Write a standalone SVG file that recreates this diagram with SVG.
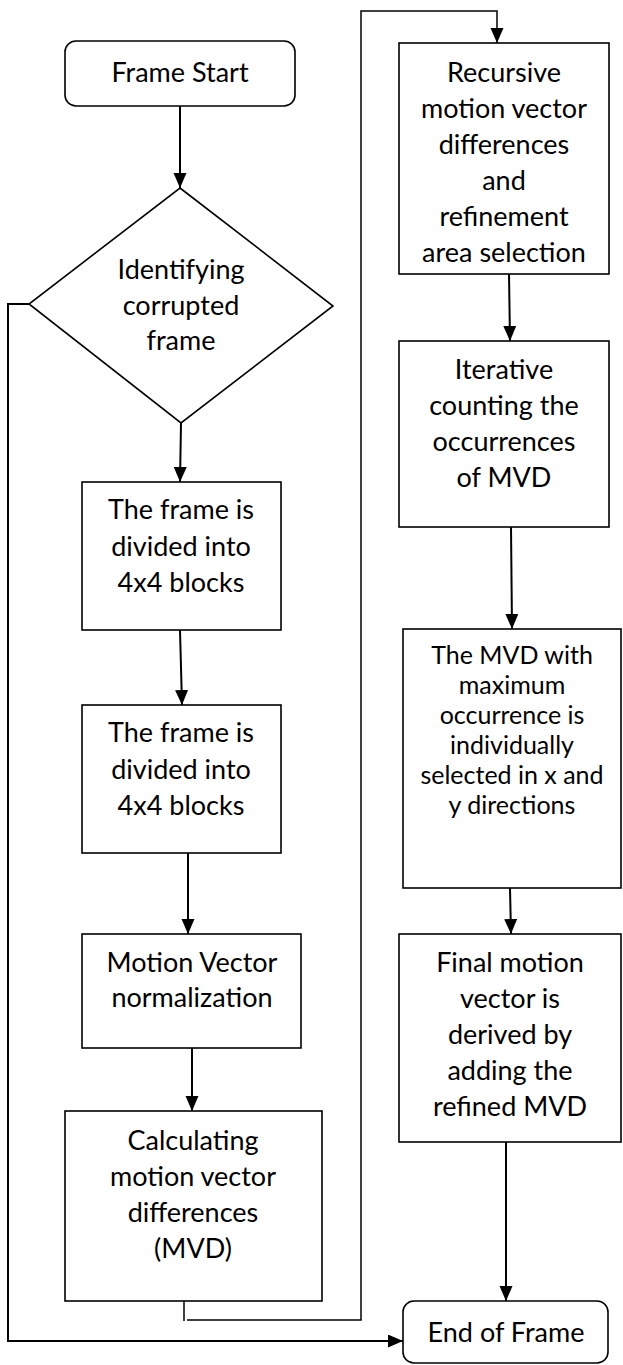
<svg xmlns="http://www.w3.org/2000/svg" width="623" height="1365" viewBox="0 0 623 1365">
  <style>
    .box { fill: #fff; stroke: #000; stroke-width: 1.6; }
    .wire { fill: none; stroke: #000; stroke-width: 2; }
    .thin { fill: none; stroke: #000; stroke-width: 1.5; }
    .lbl { font-family: Lato, "Liberation Sans", sans-serif; font-size: 27px; fill: #000; text-anchor: middle; }
    .sm { font-size: 25px; }
  </style>
  <defs>
    <marker id="arrow" markerUnits="userSpaceOnUse" markerWidth="16" markerHeight="14" refX="15" refY="6.5" orient="auto">
      <path d="M0,0 L15,6.5 L0,13 z" fill="#000"/>
    </marker>
  </defs>

  <rect width="623" height="1365" fill="#fff"/>

  <!-- connectors -->
  <g id="connectors">
    <line class="wire" x1="180" y1="106" x2="180" y2="188" marker-end="url(#arrow)"/>
    <line class="wire" x1="181" y1="423" x2="180" y2="482" marker-end="url(#arrow)"/>
    <line class="wire" x1="180" y1="630" x2="182" y2="705" marker-end="url(#arrow)"/>
    <line class="wire" x1="188" y1="853" x2="188" y2="934" marker-end="url(#arrow)"/>
    <line class="wire" x1="192" y1="1048" x2="192" y2="1111" marker-end="url(#arrow)"/>
    <!-- loop from the MVD step back up to the right-hand column -->
    <line class="thin" x1="184" y1="1297" x2="184" y2="1321"/>
    <polyline class="thin" points="187,1320 361,1320 361,11 497,11 497,43" marker-end="url(#arrow)"/>
    <line class="wire" x1="509" y1="274" x2="510" y2="341" marker-end="url(#arrow)"/>
    <line class="wire" x1="511" y1="527" x2="512" y2="629" marker-end="url(#arrow)"/>
    <line class="wire" x1="510" y1="888" x2="511" y2="934" marker-end="url(#arrow)"/>
    <line class="wire" x1="506" y1="1142" x2="506" y2="1301" marker-end="url(#arrow)"/>
    <!-- bypass from the decision straight to the end -->
    <polyline class="wire" points="29,304 8,304 8,1341 403,1341" marker-end="url(#arrow)"/>
  </g>

  <g id="frame-start">
    <rect class="box" x="65" y="41" width="230" height="65" rx="11"/>
    <text class="lbl" x="180" y="82">Frame Start</text>
  </g>

  <g id="identify-corrupted">
    <polygon class="box" points="180,188 333,306 181,423 29,304"/>
    <text class="lbl" x="181" y="279">Identifying</text>
    <text class="lbl" x="181" y="315">corrupted</text>
    <text class="lbl" x="181" y="350">frame</text>
  </g>

  <g id="divide-blocks-1">
    <rect class="box" x="82" y="482" width="199" height="148"/>
    <text class="lbl" x="181" y="519">The frame is</text>
    <text class="lbl" x="181" y="556">divided into</text>
    <text class="lbl" x="181" y="592">4x4 blocks</text>
  </g>

  <g id="divide-blocks-2">
    <rect class="box" x="82" y="705" width="199" height="148"/>
    <text class="lbl" x="181" y="742">The frame is</text>
    <text class="lbl" x="181" y="779">divided into</text>
    <text class="lbl" x="181" y="815">4x4 blocks</text>
  </g>

  <g id="mv-normalization">
    <rect class="box" x="82" y="934" width="219" height="114"/>
    <text class="lbl" x="192" y="972">Motion Vector</text>
    <text class="lbl" x="192" y="1007">normalization</text>
  </g>

  <g id="calc-mvd">
    <rect class="box" x="65" y="1111" width="257" height="190"/>
    <text class="lbl" x="193" y="1150">Calculating</text>
    <text class="lbl" x="193" y="1186">motion vector</text>
    <text class="lbl" x="193" y="1222">differences</text>
    <text class="lbl" x="193" y="1258">(MVD)</text>
  </g>

  <g id="recursive-mvd">
    <rect class="box" x="399" y="43" width="210" height="231"/>
    <text class="lbl" x="504" y="82">Recursive</text>
    <text class="lbl" x="504" y="118">motion vector</text>
    <text class="lbl" x="504" y="154">differences</text>
    <text class="lbl" x="504" y="190">and</text>
    <text class="lbl" x="504" y="226">refinement</text>
    <text class="lbl" x="504" y="262">area selection</text>
  </g>

  <g id="count-occurrences">
    <rect class="box" x="399" y="341" width="210" height="186"/>
    <text class="lbl" x="504" y="379">Iterative</text>
    <text class="lbl" x="504" y="415">counting the</text>
    <text class="lbl" x="504" y="451">occurrences</text>
    <text class="lbl" x="504" y="487">of MVD</text>
  </g>

  <g id="max-occurrence">
    <rect class="box" x="403" y="629" width="218" height="259"/>
    <text class="lbl sm" x="512" y="664">The MVD with</text>
    <text class="lbl sm" x="512" y="694">maximum</text>
    <text class="lbl sm" x="512" y="724">occurrence is</text>
    <text class="lbl sm" x="512" y="754">individually</text>
    <text class="lbl sm" x="512" y="784">selected in x and</text>
    <text class="lbl sm" x="512" y="814">y directions</text>
  </g>

  <g id="final-mv">
    <rect class="box" x="399" y="934" width="222" height="208"/>
    <text class="lbl" x="510" y="972">Final motion</text>
    <text class="lbl" x="510" y="1008">vector is</text>
    <text class="lbl" x="510" y="1044">derived by</text>
    <text class="lbl" x="510" y="1080">adding the</text>
    <text class="lbl" x="510" y="1116">refined MVD</text>
  </g>

  <g id="end-of-frame">
    <rect class="box" x="403" y="1301" width="205" height="62" rx="11"/>
    <text class="lbl" x="506" y="1342">End of Frame</text>
  </g>
</svg>
